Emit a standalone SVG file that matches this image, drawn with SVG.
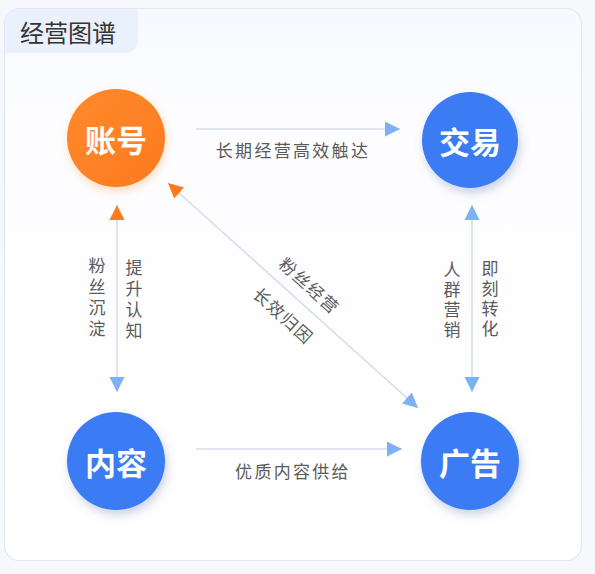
<svg xmlns="http://www.w3.org/2000/svg" width="595" height="574" viewBox="0 0 595 574">
<style>
.lbl{font-family:"Noto Sans CJK SC","Noto Sans",sans-serif;font-size:17px;fill:#5a5a5a;}
.vt{font-family:"Noto Sans CJK SC","Noto Sans",sans-serif;font-size:17px;fill:#5a5a5a;text-anchor:middle;dominant-baseline:central;}
.dt{font-family:"Noto Sans CJK SC","Noto Sans",sans-serif;font-size:17px;fill:#5a5a5a;text-anchor:middle;dominant-baseline:central;letter-spacing:1.5px;}
.node{font-family:"Noto Sans CJK SC","Noto Sans",sans-serif;font-size:31px;font-weight:bold;fill:#ffffff;text-anchor:middle;dominant-baseline:central;}
.ln{stroke:#d6ddeb;stroke-width:1.6;fill:none;}
</style>
<defs>
<linearGradient id="cardg" x1="0" y1="0" x2="0" y2="1">
<stop offset="0" stop-color="#f7f9fe"/>
<stop offset="0.2" stop-color="#fdfdff"/>
<stop offset="1" stop-color="#ffffff"/>
</linearGradient>
<linearGradient id="og" x1="0" y1="0" x2="1" y2="1">
<stop offset="0" stop-color="#ff8a2c"/>
<stop offset="1" stop-color="#fd7a20"/>
</linearGradient>
<filter id="shO" x="-40%" y="-40%" width="180%" height="180%">
<feDropShadow dx="1" dy="4" stdDeviation="5" flood-color="#ff8a2c" flood-opacity="0.3"/>
</filter>
<filter id="shB" x="-40%" y="-40%" width="180%" height="180%">
<feDropShadow dx="2" dy="5" stdDeviation="5" flood-color="#5a6fa8" flood-opacity="0.3"/>
</filter>
<marker id="ab" viewBox="0 0 10 10" refX="10" refY="5" markerWidth="15" markerHeight="16" markerUnits="userSpaceOnUse" orient="auto-start-reverse">
<path d="M0,0 L10,5 L0,10 Z" fill="#7eb0f6"/>
</marker>
<marker id="ao" viewBox="0 0 10 10" refX="10" refY="5" markerWidth="15" markerHeight="16" markerUnits="userSpaceOnUse" orient="auto-start-reverse">
<path d="M0,0 L10,5 L0,10 Z" fill="#fd7a1e"/>
</marker>
</defs>
<rect x="0" y="0" width="595" height="574" fill="#f6f8fc"/>
<g id="card">
<rect x="4.5" y="8.5" width="577" height="552" rx="15" fill="url(#cardg)" stroke="#e2e7f1" stroke-width="1.2"/>
<path d="M5.1,53 L5.1,23.5 Q5.1,9.1 19.5,9.1 L138,9.1 L138,38 Q138,53 123,53 Z" fill="#eaf1fc"/>
<text x="20" y="42" style="font-family:'Noto Sans CJK SC','Noto Sans',sans-serif;font-size:24px;fill:#333333;">经营图谱</text>
</g>
<g id="connectors">
<line class="ln" x1="196" y1="129" x2="400" y2="129" marker-end="url(#ab)"/>
<text class="lbl" x="293" y="157" text-anchor="middle" letter-spacing="2.3">长期经营高效触达</text>
<line class="ln" x1="196" y1="449" x2="402" y2="449" marker-end="url(#ab)"/>
<text class="lbl" x="293" y="478" text-anchor="middle" letter-spacing="2.3">优质内容供给</text>
<line class="ln" x1="117" y1="205" x2="117" y2="392" marker-start="url(#ao)" marker-end="url(#ab)"/>
<text class="vt" x="97"><tspan x="97" y="264">粉</tspan><tspan x="97" y="285">丝</tspan><tspan x="97" y="306">沉</tspan><tspan x="97" y="327">淀</tspan></text>
<text class="vt" x="134"><tspan x="134" y="266">提</tspan><tspan x="134" y="287">升</tspan><tspan x="134" y="308">认</tspan><tspan x="134" y="329">知</tspan></text>
<line class="ln" x1="472" y1="205" x2="472" y2="392" marker-start="url(#ab)" marker-end="url(#ab)"/>
<text class="vt" x="452"><tspan x="452" y="268">人</tspan><tspan x="452" y="288">群</tspan><tspan x="452" y="308">营</tspan><tspan x="452" y="328">销</tspan></text>
<text class="vt" x="490"><tspan x="490" y="267">即</tspan><tspan x="490" y="287">刻</tspan><tspan x="490" y="307">转</tspan><tspan x="490" y="327">化</tspan></text>
<line class="ln" x1="168" y1="183" x2="418" y2="408" marker-start="url(#ao)" marker-end="url(#ab)"/>
<text class="dt" transform="translate(310,285) rotate(42)">粉丝经营</text>
<text class="dt" transform="translate(284,315) rotate(42)">长效归因</text>
</g>
<g id="node-zhanghao">
<circle cx="116" cy="138" r="49" fill="url(#og)" filter="url(#shO)"/>
<text class="node" x="116" y="138">账号</text>
</g>
<g id="node-jiaoyi">
<circle cx="470" cy="140" r="48" fill="#3b7bf4" filter="url(#shB)"/>
<text class="node" x="470" y="140">交易</text>
</g>
<g id="node-neirong">
<circle cx="116" cy="461" r="49" fill="#3b7bf4" filter="url(#shB)"/>
<text class="node" x="116" y="461">内容</text>
</g>
<g id="node-guanggao">
<circle cx="470" cy="461" r="49" fill="#3b7bf4" filter="url(#shB)"/>
<text class="node" x="470" y="461">广告</text>
</g>
</svg>
